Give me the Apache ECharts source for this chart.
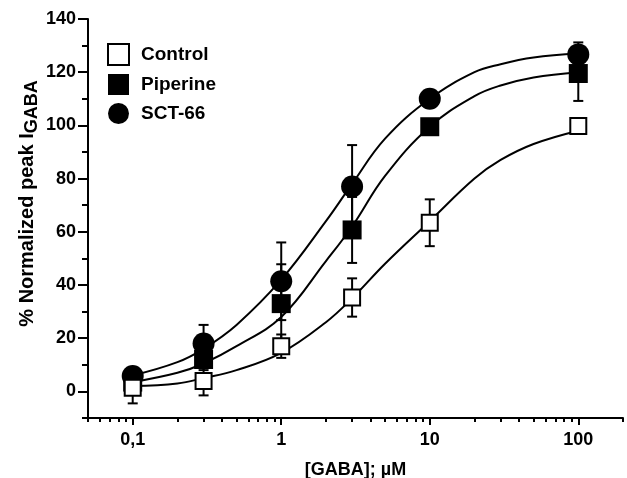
<!DOCTYPE html>
<html>
  <head>
    <meta charset="utf-8">
    <title>GABA dose-response</title>
    <script src="https://cdn.jsdelivr.net/npm/echarts@6.0.0/dist/echarts.min.js"></script>
    <style media="screen">
    html,body{
      height:100%;
      width:100%;
      margin:0px;
      background:#fff;
    }
    #chartDiv{
      width:627px;
      height:478px;
    }
    </style>
  </head>
  <body>
    <div id="chartDiv"></div>
    <script type="text/javascript">
      // measured points, [GABA] in uM
      var conc = [0.1, 0.3, 1, 3, 10, 100];
      var controlMean = [1.4, 3.9, 17, 35.3, 63.4, 99.8];
      var controlSem = [5.9, 5.4, 4.4, 7.2, 8.8, 1];
      var piperineMean = [3.5, 12, 33, 60.7, 99.5, 119.5];
      var piperineSem = [2, 4, 14.8, 12.4, 2, 10.3];
      var sctMean = [5.8, 18, 41.4, 77, 110, 126.7];
      var sctSem = [2, 7, 14.6, 15.6, 2, 4.5];

      // fitted curves
      var fitConc = [0.1, 0.2, 0.3, 0.5, 1, 2, 3, 5, 10, 20, 30, 50, 100];
      var controlFit = [2, 3, 5, 8, 14.5, 26, 35, 48, 64, 80, 87, 93, 98];
      var piperineFit = [3.5, 7, 10.5, 17, 28, 49, 62, 81, 99.5, 111, 115, 118, 120];
      var sctFit = [6, 11, 16, 25, 42, 64, 78, 95, 110, 120, 123, 125.5, 127];

      // axis ticks
      var xMajor = [0.1, 1, 10, 100];
      var xMinor = [0.05, 0.06, 0.07, 0.08, 0.09,
                    0.2, 0.3, 0.4, 0.5, 0.6, 0.7, 0.8, 0.9,
                    2, 3, 4, 5, 6, 7, 8, 9,
                    20, 30, 40, 50, 60, 70, 80, 90, 200];
      var yMajor = [0, 20, 40, 60, 80, 100, 120, 140];
      var yMinor = [-10, 10, 30, 50, 70, 90, 110, 130];

      var font = 'Liberation Sans, Arial, sans-serif';

      function pairs(xs, ys){
        return xs.map(function(x, i){ return [x, ys[i]]; });
      }
      function errRows(xs, m, s){
        return xs.map(function(x, i){ return [x, m[i] - s[i], m[i] + s[i]]; });
      }
      function renderErr(params, api){
        var x = api.value(0);
        var lo = api.coord([x, api.value(1)]);
        var hi = api.coord([x, api.value(2)]);
        var w = 5;
        var st = {stroke:'#000', lineWidth:2};
        return {
          type:'group',
          children:[
            {type:'line', shape:{x1:lo[0], y1:lo[1], x2:hi[0], y2:hi[1]}, style:st},
            {type:'line', shape:{x1:lo[0]-w, y1:lo[1], x2:lo[0]+w, y2:lo[1]}, style:st},
            {type:'line', shape:{x1:hi[0]-w, y1:hi[1], x2:hi[0]+w, y2:hi[1]}, style:st}
          ]
        };
      }
      function errSeries(name, m, s){
        return {
          name:name,
          type:'custom',
          renderItem:renderErr,
          encode:{x:0, y:[1, 2]},
          silent:true,
          z:1,
          data:errRows(conc, m, s)
        };
      }
      function fitSeries(name, ys){
        return {
          name:name,
          type:'line',
          smooth:0.4,
          showSymbol:false,
          silent:true,
          z:1,
          lineStyle:{color:'#000', width:2},
          data:pairs(fitConc, ys)
        };
      }

      var option = {
        animation:false,
        backgroundColor:'#fff',
        grid:{
          left:88,
          right:4,
          top:19,
          bottom:60,
          outerBoundsMode:'none'
        },
        legend:{
          orient:'vertical',
          left:102,
          top:38,
          itemWidth:21,
          itemHeight:21,
          itemGap:8,
          textStyle:{
            fontFamily:font,
            fontWeight:'bold',
            fontSize:19,
            color:'#000',
            padding:[0, 0, 0, 7]
          },
          data:[
            {name:'Control', icon:'rect'},
            {name:'Piperine', icon:'rect'},
            {name:'SCT-66', icon:'circle'}
          ]
        },
        xAxis:[
          {
            type:'log',
            min:0.05,
            max:200,
            position:'bottom',
            name:'[GABA]; \u00b5M',
            nameLocation:'middle',
            nameGap:43,
            nameTextStyle:{fontFamily:font, fontWeight:'bold', fontSize:18, color:'#000'},
            axisLine:{onZero:false, lineStyle:{color:'#000', width:2}},
            axisTick:{customValues:xMajor, length:7, lineStyle:{color:'#000', width:2}},
            axisLabel:{
              customValues:xMajor,
              margin:13,
              fontFamily:font,
              fontWeight:'bold',
              fontSize:18,
              color:'#000',
              formatter:function(v){
                return Math.abs(v - 0.1) < 1e-9 ? '0,1' : String(Math.round(v));
              }
            },
            splitLine:{show:false}
          },
          {
            type:'log',
            min:0.05,
            max:200,
            position:'bottom',
            axisLine:{show:false, onZero:false},
            axisTick:{customValues:xMinor, length:4, lineStyle:{color:'#000', width:2}},
            axisLabel:{show:false},
            splitLine:{show:false}
          }
        ],
        yAxis:[
          {
            type:'value',
            min:-10,
            max:140,
            position:'left',
            name:'{a|% Normalized peak I}{b|GABA}',
            nameLocation:'middle',
            nameGap:47,
            nameMoveOverlap:false,
            nameTextStyle:{
              color:'#000',
              padding:[0, 0, 0, 30],
              rich:{
                a:{fontFamily:font, fontWeight:'bold', fontSize:20, color:'#000', lineHeight:22, verticalAlign:'top'},
                b:{fontFamily:font, fontWeight:'bold', fontSize:18, color:'#000', lineHeight:24, verticalAlign:'bottom'}
              }
            },
            axisLine:{onZero:false, lineStyle:{color:'#000', width:2}},
            axisTick:{customValues:yMajor, length:10, lineStyle:{color:'#000', width:2}},
            axisLabel:{
              customValues:yMajor,
              margin:12,
              fontFamily:font,
              fontWeight:'bold',
              fontSize:18,
              color:'#000'
            },
            splitLine:{show:false}
          },
          {
            type:'value',
            min:-10,
            max:140,
            position:'left',
            axisLine:{show:false, onZero:false},
            axisTick:{customValues:yMinor, length:6, lineStyle:{color:'#000', width:2}},
            axisLabel:{show:false},
            splitLine:{show:false}
          }
        ],
        series:[
          fitSeries('Control fit', controlFit),
          fitSeries('Piperine fit', piperineFit),
          fitSeries('SCT-66 fit', sctFit),
          errSeries('Piperine err', piperineMean, piperineSem),
          errSeries('SCT-66 err', sctMean, sctSem),
          errSeries('Control err', controlMean, controlSem),
          {
            name:'Piperine',
            type:'scatter',
            symbol:'rect',
            symbolSize:19,
            z:3,
            itemStyle:{color:'#000', opacity:1},
            data:pairs(conc, piperineMean)
          },
          {
            name:'SCT-66',
            type:'scatter',
            symbol:'circle',
            symbolSize:22,
            z:3,
            itemStyle:{color:'#000', opacity:1},
            data:pairs(conc, sctMean)
          },
          {
            name:'Control',
            type:'scatter',
            symbol:'rect',
            symbolSize:16,
            z:3,
            itemStyle:{color:'#fff', borderColor:'#000', borderWidth:2, opacity:1},
            data:pairs(conc, controlMean)
          }
        ]
      };

      var chart = echarts.init(document.getElementById('chartDiv'));
      chart.setOption(option);
    </script>
  </body>
</html>
